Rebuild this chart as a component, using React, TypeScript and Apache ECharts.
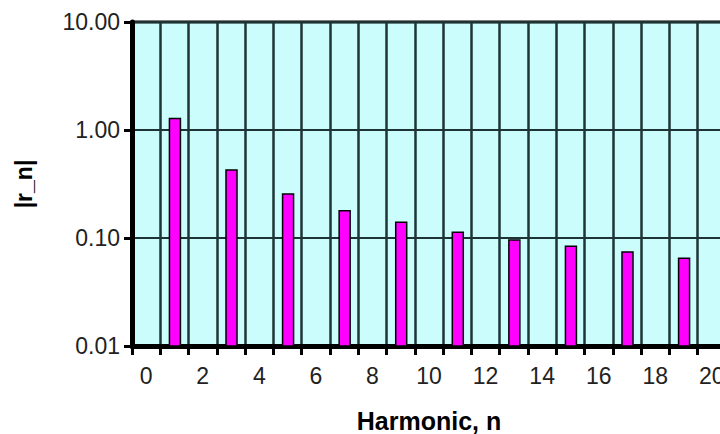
import React, { useEffect, useRef } from "react";
import * as echarts from "echarts";

const categories = ["0","1","2","3","4","5","6","7","8","9","10","11","12","13","14","15","16","17","18","19","20"];
const magnitudes: (number | null)[] = [null, 1.28, null, 0.426, null, 0.255, null, 0.179, null, 0.14, null, 0.113, null, 0.096, null, 0.084, null, 0.074, null, 0.065, null];
const yTickLabels = ["0.01", "0.10", "1.00", "10.00"];
const yMin = 0.01;
const yMax = 10;

export default function App() {
  const ref = useRef<HTMLDivElement>(null);
  useEffect(() => {
    if (!ref.current) return;
    const chart = echarts.init(ref.current, undefined, { renderer: "svg" });
    const labelFont = { fontFamily: "Liberation Sans", fontSize: 23, color: "#222" };
    const barData = magnitudes
      .map((v, i) => (v == null ? null : [i, v]))
      .filter((d) => d != null);
    chart.setOption({
      animation: false,
      backgroundColor: "#ffffff",
      grid: {
        left: 132,
        top: 22,
        right: -6,
        bottom: 88,
        outerBoundsMode: "none",
        containLabel: false,
        show: true,
        backgroundColor: "#cbfdfd",
        borderColor: "#000",
        borderWidth: 3,
      },
      xAxis: {
        type: "category",
        data: categories,
        boundaryGap: true,
        name: "Harmonic, n",
        nameLocation: "middle",
        nameGap: 62,
        nameTextStyle: { fontFamily: "Liberation Sans", fontSize: 25, fontWeight: "bold", color: "#000" },
        axisLine: { show: true, lineStyle: { color: "#000", width: 5 } },
        axisTick: { show: true, interval: 0, length: 9, lineStyle: { color: "#000", width: 3 } },
        axisLabel: { ...labelFont, interval: 1, margin: 18 },
        splitLine: { show: true, interval: 0, lineStyle: { color: "#1e3434", width: 2.5 } },
      },
      yAxis: {
        type: "log",
        logBase: 10,
        min: yMin,
        max: yMax,
        name: "|r_n|",
        nameLocation: "middle",
        nameGap: 97,
        nameRotate: 90,
        nameTextStyle: { fontFamily: "Liberation Sans", fontSize: 23, fontWeight: "bold", color: "#000" },
        axisLine: { show: true, lineStyle: { color: "#000", width: 5 } },
        axisTick: { show: true, length: 8, lineStyle: { color: "#000", width: 3 } },
        axisLabel: {
          ...labelFont,
          margin: 12,
          formatter: (v: number) => {
            const idx = Math.round(Math.log10(v)) + 2;
            return yTickLabels[idx] ?? v.toFixed(2);
          },
        },
        splitLine: { show: true, lineStyle: { color: "#1e3434", width: 2 } },
      },
      series: [
        {
          type: "custom",
          data: barData,
          encode: { x: 0, y: 1 },
          renderItem: (params: any, api: any) => {
            const idx = api.value(0);
            const val = api.value(1);
            const top = api.coord([idx, val]);
            const bottom = api.coord([idx, yMin]);
            const w = 11;
            return {
              type: "rect",
              shape: { x: top[0] - w / 2 + 0.5, y: top[1], width: w, height: bottom[1] - top[1] },
              style: { fill: "#ff00ff", stroke: "#000", lineWidth: 1.5 },
              z2: 10,
            };
          },
        },
      ],
    });
    return () => chart.dispose();
  }, []);
  return <div ref={ref} style={{ position: "fixed", left: 0, top: 0, width: 720, height: 434 }} />;
}
